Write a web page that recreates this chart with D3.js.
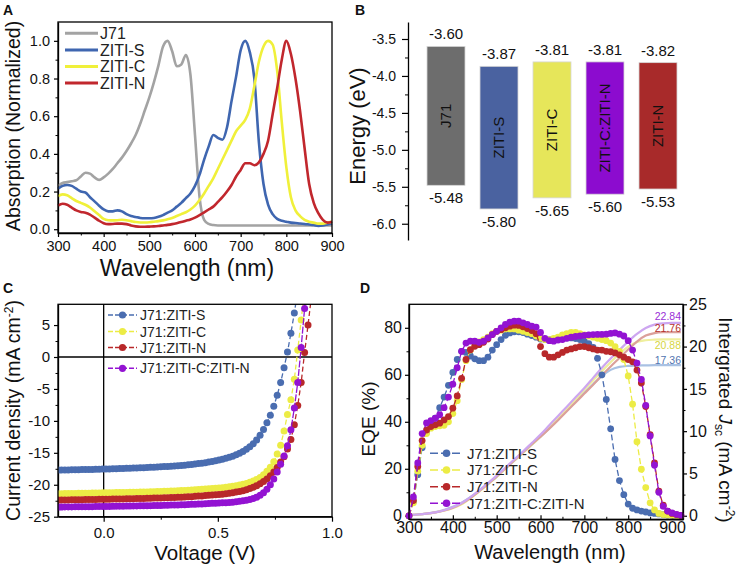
<!DOCTYPE html>
<html><head><meta charset="utf-8">
<script src="https://cdn.jsdelivr.net/npm/d3@7"></script>
<style>
body{margin:0;background:#fff;}
svg{display:block;}
</style></head><body>
<svg id="c" width="736" height="566"></svg>
<script>
// ---------------- DATA ----------------
// Panel A: normalized absorption
const wlA = [300,310,320,330,340,350,360,370,380,390,400,410,420,430,440,450,460,470,480,490,500,510,520,530,540,550,560,570,580,590,600,610,620,630,640,650,660,670,680,690,700,710,720,730,740,750,760,770,780,790,800,810,820,830,840,850,860,870,880,890,900];
const absJ71 = [0.23,0.245,0.25,0.255,0.26,0.28,0.30,0.295,0.275,0.262,
  0.275,0.295,0.32,0.35,0.38,0.415,0.455,0.50,0.56,0.63,
  0.70,0.78,0.87,0.97,1.0,0.945,0.865,0.875,0.925,0.82,
  0.50,0.17,0.05,0.028,0.022,0.02,0.02,0.02,0.02,0.02,
  0.02,0.02,0.02,0.02,0.02,0.02,0.02,0.02,0.02,0.02,
  0.02,0.02,0.02,0.02,0.02,0.02,0.02,0.02,0.02,0.02,0.02];
const absS = [0.215,0.23,0.235,0.23,0.215,0.20,0.195,0.17,0.148,0.125,
  0.105,0.095,0.095,0.10,0.095,0.08,0.07,0.065,0.06,0.058,
  0.058,0.06,0.066,0.075,0.088,0.10,0.12,0.14,0.165,0.19,
  0.23,0.29,0.37,0.44,0.50,0.485,0.475,0.54,0.68,0.81,
  0.95,1.0,0.94,0.80,0.46,0.24,0.13,0.08,0.055,0.045,
  0.04,0.035,0.033,0.03,0.028,0.025,0.022,0.018,0.02,0.025,0.03];
const absC = [0.175,0.185,0.18,0.165,0.15,0.14,0.13,0.115,0.095,0.075,
  0.055,0.048,0.047,0.048,0.05,0.048,0.043,0.038,0.036,0.036,
  0.037,0.04,0.043,0.047,0.053,0.06,0.07,0.08,0.09,0.105,
  0.125,0.155,0.19,0.23,0.27,0.32,0.37,0.42,0.47,0.52,
  0.55,0.58,0.64,0.76,0.89,0.97,1.0,0.98,0.84,0.57,
  0.33,0.17,0.10,0.07,0.05,0.04,0.035,0.03,0.03,0.035,0.04];
const absN = [0.125,0.135,0.13,0.115,0.10,0.092,0.088,0.078,0.062,0.045,
  0.032,0.027,0.028,0.03,0.03,0.027,0.02,0.015,0.013,0.013,
  0.014,0.015,0.017,0.02,0.023,0.027,0.032,0.038,0.045,0.052,
  0.062,0.075,0.09,0.105,0.12,0.145,0.17,0.20,0.235,0.28,
  0.315,0.35,0.35,0.34,0.355,0.40,0.47,0.61,0.75,0.90,
  1.0,0.93,0.80,0.63,0.43,0.24,0.14,0.085,0.05,0.035,0.04];
const namesA = ["J71","ZITI-S","ZITI-C","ZITI-N"];
const ticksAx = [300,400,500,600,700,800,900];
const ticksAy = [0,0.2,0.4,0.6,0.8,1.0];

// Panel B: energy levels
const catsB = ["J71","ZITI-S","ZITI-C","ZITI-C:ZITI-N","ZITI-N"];
const lumoB = [-3.60,-3.87,-3.81,-3.81,-3.82];
const homoB = [-5.48,-5.80,-5.65,-5.60,-5.53];
const ticksB = [-3.5,-4.0,-4.5,-5.0,-5.5,-6.0];

// Panel C: J-V
const namesCD = ["J71:ZITI-S","J71:ZITI-C","J71:ZITI-N","J71:ZITI-C:ZITI-N"];
const voltC = [-0.2,-0.185,-0.17,-0.155,-0.14,-0.125,-0.11,-0.095,-0.08,-0.065,-0.05,-0.035,-0.02,-0.005,0.01,0.025,0.04,0.055,0.07,0.085,
  0.1,0.115,0.13,0.145,0.16,0.175,0.19,0.205,0.22,0.235,0.25,0.265,0.28,0.295,0.31,0.325,0.34,0.355,0.37,0.385,
  0.4,0.415,0.43,0.445,0.46,0.475,0.49,0.505,0.52,0.535,0.55,0.565,0.58,0.595,0.61,0.625,0.64,0.655,0.67,0.685,
  0.7,0.715,0.73,0.745,0.76,0.775,0.79,0.805,0.82,0.835,0.85,0.865,0.88,0.895,0.91];
const jS = [-17.70,-17.69,-17.68,-17.67,-17.66,-17.65,-17.64,-17.63,-17.62,-17.61,
  -17.60,-17.58,-17.57,-17.55,-17.53,-17.52,-17.50,-17.48,-17.46,-17.44,
  -17.42,-17.40,-17.38,-17.36,-17.34,-17.32,-17.30,-17.27,-17.25,-17.22,
  -17.19,-17.16,-17.13,-17.10,-17.06,-17.02,-16.98,-16.93,-16.88,-16.82,
  -16.76,-16.69,-16.62,-16.54,-16.45,-16.36,-16.25,-16.13,-16.00,-15.86,
  -15.70,-15.52,-15.31,-15.07,-14.79,-14.45,-14.05,-13.57,-12.98,-12.25,
  -11.35,-10.30,-9.10,-7.70,-6.00,-4.00,-1.70,0.80,3.70,6.90,10.40];
const jC = [-21.40,-21.39,-21.38,-21.37,-21.36,-21.35,-21.34,-21.33,-21.32,-21.31,
  -21.30,-21.29,-21.28,-21.27,-21.26,-21.25,-21.24,-21.23,-21.22,-21.21,
  -21.20,-21.19,-21.17,-21.16,-21.15,-21.13,-21.12,-21.10,-21.08,-21.06,
  -21.04,-21.02,-21.00,-20.98,-20.96,-20.93,-20.91,-20.88,-20.85,-20.82,
  -20.79,-20.76,-20.72,-20.68,-20.64,-20.60,-20.55,-20.50,-20.45,-20.39,
  -20.32,-20.24,-20.15,-20.05,-19.93,-19.79,-19.62,-19.42,-19.17,-18.85,
  -18.42,-17.90,-17.25,-16.40,-15.20,-13.80,-11.60,-9.00,-6.70,-3.50,1.10,5.80,10.50];
const jN = [-22.40,-22.39,-22.38,-22.37,-22.36,-22.35,-22.34,-22.33,-22.32,-22.31,
  -22.30,-22.29,-22.28,-22.27,-22.26,-22.25,-22.24,-22.23,-22.22,-22.21,
  -22.20,-22.19,-22.18,-22.16,-22.15,-22.14,-22.12,-22.11,-22.09,-22.07,
  -22.06,-22.04,-22.02,-22.00,-21.98,-21.96,-21.94,-21.92,-21.89,-21.87,
  -21.80,-21.77,-21.74,-21.70,-21.66,-21.62,-21.57,-21.52,-21.47,-21.41,
  -21.33,-21.25,-21.15,-21.05,-20.95,-20.80,-20.60,-20.40,-20.15,-19.85,
  -19.50,-19.10,-18.60,-18.00,-17.30,-16.45,-15.60,-14.40,-12.90,-10.60,-7.60,-4.00,0.70,5.00,9.50];
const jCN = [-23.50,-23.49,-23.48,-23.48,-23.47,-23.46,-23.46,-23.45,-23.44,-23.43,
  -23.43,-23.42,-23.41,-23.40,-23.40,-23.39,-23.38,-23.37,-23.36,-23.35,
  -23.34,-23.33,-23.32,-23.31,-23.30,-23.29,-23.28,-23.27,-23.25,-23.24,
  -23.23,-23.21,-23.20,-23.18,-23.17,-23.15,-23.13,-23.11,-23.09,-23.07,
  -23.05,-23.03,-23.00,-22.97,-22.94,-22.91,-22.88,-22.84,-22.81,-22.80,
  -22.78,-22.73,-22.67,-22.60,-22.52,-22.42,-22.30,-22.15,-21.95,-21.65,
  -21.25,-20.70,-20.00,-19.10,-18.00,-16.80,-15.50,-13.90,-11.40,-8.00,-4.00,1.50,7.60,14.00];
const ticksCx = [0.0,0.5,1.0];
const ticksCy = [5,0,-5,-10,-15,-20,-25];

// Panel D: EQE and integrated Jsc
const wlD = [300,310,320,330,340,350,360,370,380,390,400,410,420,430,440,450,460,470,480,490,500,510,520,530,540,550,560,570,580,590,600,610,620,630,640,650,660,670,680,690,700,710,720,730,740,750,760,770,780,790,800,810,820,830,840,850,860,870,880,890,900,910,920];
const eqeS = [0,6,17.5,29,35.5,38,41.5,46,50.5,55.5,
  61,66.5,70,69.5,68,66.8,66,66,67.5,70.5,
  72.8,75,76.8,77.8,78.3,78.3,78,77.3,76.7,76,
  75.2,75,75,75.2,75.5,75.7,75.7,75.7,75.4,75,
  74.3,73.3,71.7,67,60,49.5,37,24,15,9,
  5,3.2,2.5,2,1.6,1.2,1,0.8,0.5,0.3,0.2,0.1,0];
const eqeC = [0,5.5,19,30,35,37.3,38,38.3,38.5,40,
  43.5,49,58,66,70.5,72.5,74,75,76,77.5,
  78.5,79,79.5,79.5,79.5,79,78.5,78,77.5,76.5,
  75.5,75,75,75.5,76,77,77.5,78,78,77.5,
  77,76.5,76,75.5,75,74.5,73.5,72,70,66.5,
  59.5,47.5,31.5,19.8,12,5.5,2.5,1,0.5,0.3,0.2,0.1,0];
const eqeN = [0,6.5,21,32,36.5,38,38.7,39.4,40.8,42.2,
  45.8,51,58.5,66.5,70.7,72.1,72.8,73.8,75.2,77.1,
  78.5,79.2,80,80.7,81.1,81,80.4,79.7,78.8,77.5,
  72,69,67.5,67.5,68.5,69.5,70.5,71,71.5,72,
  72,71.5,71,70.5,70.5,70,69.8,69.3,68.5,67.5,
  66.5,65.5,62,56.5,46.5,34.5,22.5,10.5,4.5,2,1,0.5,0.2];
const eqeCN = [0,8,22.5,35,39.5,40.5,41.5,43,46,50.5,
  56,63,70,73.5,74.3,74.3,73.8,74.3,75.7,77.1,
  78.5,80,81.4,82.4,82.8,82.8,82.1,81.4,80.7,80.3,
  78,75.5,74.5,74.3,74.8,75,75.5,76,76.3,76.5,
  76.8,77,77.1,77.2,77.2,77.3,77.6,77.8,77.3,76.5,
  74.5,70.5,65,58,47,34,21.5,10,4,2,1.2,0.6,0.2];
const wlInt = [300,320,340,360,380,400,420,440,460,480,500,520,540,560,580,600,620,640,660,680,700,720,740,760,780,800,820,840,860,880,900,920];
const intS = [0.1,0.15,0.25,0.42,0.7,1.05,1.55,2.2,2.95,3.75,4.6,5.55,6.5,7.45,8.4,9.35,10.35,11.4,12.45,13.5,14.55,15.55,16.5,17.25,17.6,17.72,17.76,17.78,17.8,17.8,17.8,17.8];
const intC = [0.1,0.15,0.25,0.4,0.6,0.9,1.35,2.05,2.85,3.7,4.6,5.55,6.5,7.45,8.4,9.35,10.4,11.5,12.6,13.75,14.9,16.0,17.1,18.15,19.15,20.0,20.55,20.75,20.82,20.85,20.85,20.85];
const intN = [0.1,0.15,0.25,0.4,0.62,0.95,1.45,2.1,2.9,3.75,4.65,5.6,6.55,7.5,8.45,9.35,10.3,11.3,12.35,13.4,14.45,15.5,16.6,17.65,18.65,19.65,20.6,21.3,21.6,21.7,21.72,21.72];
const intCN = [0.1,0.15,0.25,0.4,0.65,1.0,1.5,2.2,3.0,3.85,4.75,5.7,6.65,7.6,8.6,9.6,10.7,11.8,12.9,14.0,15.1,16.3,17.5,18.6,19.6,20.6,21.5,22.2,22.6,22.75,22.8,22.8];
const jscLabels = ["17.36","20.88","21.76","22.84"];
const ticksDx = [300,400,500,600,700,800,900];
const ticksDy = [0,20,40,60,80];
const ticksDr = [0,5,10,15,20,25];

// ---------------- DRAWING ----------------
const FONT = '"Liberation Sans", Arial, Helvetica, sans-serif';
const svg = d3.select("#c").attr("font-family", FONT);

function styleAxis(g, fs){
  g.attr("font-family", FONT).attr("font-size", fs);
  g.selectAll(".domain").attr("stroke","#000").attr("stroke-width",1.3);
  g.selectAll(".tick line").attr("stroke","#000").attr("stroke-width",1.2);
  g.selectAll(".tick text").attr("fill","#111");
}
function minorStyle(g){
  g.select(".domain").remove();
  g.selectAll(".tick line").attr("stroke","#000").attr("stroke-width",1);
  g.selectAll(".tick text").remove();
}
function frame(g,x0,y0,x1,y1){
  g.append("rect").attr("x",x0).attr("y",y0).attr("width",x1-x0).attr("height",y1-y0)
   .attr("fill","none").attr("stroke","#000").attr("stroke-width",1.3);
}
function label(g,x,y,s,fs,opt){
  opt = opt||{};
  return g.append("text").attr("x",x).attr("y",y).attr("font-size",fs)
    .attr("text-anchor",opt.anchor||"start").attr("font-weight",opt.weight||"normal")
    .attr("fill",opt.fill||"#111").text(s);
}
function mids(arr){ const r=[]; for(let i=0;i<arr.length-1;i++) r.push((arr[i]+arr[i+1])/2); return r; }

// Panel letters
label(svg,3,15,"A",14,{weight:"bold"});
label(svg,355,15,"B",14,{weight:"bold"});
label(svg,3,293,"C",14,{weight:"bold"});
label(svg,360,293,"D",14,{weight:"bold"});

// ===== Panel A =====
{
  const x = d3.scaleLinear().domain([300,900]).range([58,332]);
  const y = d3.scaleLinear().domain([-0.02,1.1]).range([233,22]);
  const g = svg.append("g");
  const colors = ["#a3a3a3","#3f66b0","#f0f03a","#c1272d"];
  const series = [absJ71,absS,absC,absN];
  g.append("g").attr("transform","translate(0,233)")
    .call(d3.axisBottom(x).tickValues(ticksAx).tickFormat(d=>String(d)).tickSizeInner(4).tickSizeOuter(0).tickPadding(4))
    .call(a=>styleAxis(a,14.5));
  g.append("g").attr("transform","translate(0,233)")
    .call(d3.axisBottom(x).tickValues(mids(ticksAx)).tickFormat(()=>"").tickSizeInner(2.5).tickSizeOuter(0)).call(minorStyle);
  g.append("g").attr("transform","translate(58,0)")
    .call(d3.axisLeft(y).tickValues(ticksAy).tickFormat(d=>d.toFixed(1)).tickSizeInner(4).tickSizeOuter(0).tickPadding(4))
    .call(a=>styleAxis(a,14.5));
  g.append("g").attr("transform","translate(58,0)")
    .call(d3.axisLeft(y).tickValues(mids(ticksAy)).tickFormat(()=>"").tickSizeInner(2.5).tickSizeOuter(0)).call(minorStyle);
  const line = d3.line().x(d=>x(d[0])).y(d=>y(d[1])).curve(d3.curveMonotoneX);
  series.forEach((s,k)=>{
    g.append("path").datum(wlA.map((w,i)=>[w,s[i]])).attr("d",line)
      .attr("fill","none").attr("stroke",colors[k]).attr("stroke-width",2.6).attr("stroke-linejoin","round");
  });
  frame(g,58,22,332,233);
  namesA.forEach((n,k)=>{
    const yy = 33.3 + k*16.6;
    g.append("line").attr("x1",65).attr("x2",98).attr("y1",yy).attr("y2",yy).attr("stroke",colors[k]).attr("stroke-width",3);
    label(g,100,yy+5.7,n,16,{fill:"#222"});
  });
  label(g,187,276,"Wavelength (nm)",23,{anchor:"middle"});
  g.append("text").attr("transform","translate(20,126) rotate(-90)").attr("text-anchor","middle")
    .attr("font-size",19.5).attr("fill","#111").text("Absorption (Normalized)");
}

// ===== Panel B =====
{
  const y = d3.scaleLinear().domain([-6.22,-3.27]).range([240,22]);
  const x = d3.scaleBand().domain(catsB).range([419.5,684.5]).paddingInner(0.283).paddingOuter(0.1415);
  const colors = ["#6d6d6d","#4a62a0","#e6e65a","#8c0ccf","#a82a2a"];
  const g = svg.append("g");
  g.append("g").attr("transform","translate(408,0)")
    .call(d3.axisLeft(y).tickValues(ticksB).tickFormat(d=>d.toFixed(1)).tickSizeInner(6).tickSizeOuter(0).tickPadding(6))
    .call(a=>styleAxis(a,14));
  g.append("g").attr("transform","translate(408,0)")
    .call(d3.axisLeft(y).tickValues(mids(ticksB)).tickFormat(()=>"").tickSizeInner(3).tickSizeOuter(0)).call(minorStyle);
  catsB.forEach((c,i)=>{
    const y1 = y(lumoB[i]), y2 = y(homoB[i]), bx = x(c), bw = x.bandwidth(), cx = bx+bw/2;
    g.append("rect").attr("x",bx).attr("y",y1).attr("width",bw).attr("height",y2-y1)
      .attr("fill",colors[i]).attr("stroke","#d6d6d6").attr("stroke-width",0.8);
    label(g,cx,y1-7,lumoB[i].toFixed(2),15,{anchor:"middle"});
    label(g,cx,y2+18,homoB[i].toFixed(2),15,{anchor:"middle"});
    g.append("text").attr("transform",`translate(${cx+5},${(y1+y2)/2}) rotate(-90)`)
      .attr("text-anchor","middle").attr("font-size",15).attr("fill","#111").text(c);
  });
  g.append("text").attr("transform","translate(365,126) rotate(-90)").attr("text-anchor","middle")
    .attr("font-size",22).attr("fill","#111").text("Energy (eV)");
}

// ===== Panel C =====
{
  const x = d3.scaleLinear().domain([-0.2,1.0]).range([58,332]);
  const y = d3.scaleLinear().domain([-25,8.25]).range([516.7,304.3]);
  const colors = ["#4a6db0","#ecec45","#b8282a","#9313d2"];
  const series = [jS,jC,jN,jCN];
  const g = svg.append("g");
  svg.append("clipPath").attr("id","clipC").append("rect").attr("x",58).attr("y",304.3).attr("width",274).attr("height",212.4);
  g.append("g").attr("transform","translate(0,516.7)")
    .call(d3.axisBottom(x).tickValues(ticksCx).tickFormat(d=>d.toFixed(1)).tickSizeInner(5).tickSizeOuter(0).tickPadding(5.5))
    .call(a=>styleAxis(a,15));
  g.append("g").attr("transform","translate(0,516.7)")
    .call(d3.axisBottom(x).tickValues(mids(ticksCx)).tickFormat(()=>"").tickSizeInner(3).tickSizeOuter(0)).call(minorStyle);
  g.append("g").attr("transform","translate(58,0)")
    .call(d3.axisLeft(y).tickValues(ticksCy).tickFormat(d=>String(d)).tickSizeInner(4).tickSizeOuter(0).tickPadding(4))
    .call(a=>styleAxis(a,15));
  g.append("g").attr("transform","translate(58,0)")
    .call(d3.axisLeft(y).tickValues(mids(ticksCy)).tickFormat(()=>"").tickSizeInner(2.5).tickSizeOuter(0)).call(minorStyle);
  // zero lines
  g.append("line").attr("x1",x(0)).attr("x2",x(0)).attr("y1",304.3).attr("y2",516.7).attr("stroke","#000").attr("stroke-width",1.3);
  g.append("line").attr("x1",58).attr("x2",332).attr("y1",y(0)).attr("y2",y(0)).attr("stroke","#000").attr("stroke-width",1.3);
  const pg = g.append("g").attr("clip-path","url(#clipC)");
  const line = d3.line().x(d=>x(d[0])).y(d=>y(d[1]));
  series.forEach((s,k)=>{
    const pts = s.map((v,i)=>[voltC[i],v]);
    pg.append("path").datum(pts).attr("d",line).attr("fill","none").attr("stroke",colors[k])
      .attr("stroke-width",1.3).attr("stroke-dasharray",k===3?"7,1.5":"5,3");
    pg.selectAll(null).data(pts).enter().append("circle")
      .attr("cx",d=>x(d[0])).attr("cy",d=>y(d[1])).attr("r",3.5).attr("fill",colors[k]);
  });
  frame(g,58,304.3,332,516.7);
  const rows = [315,331.5,347.5,368.3];
  namesCD.forEach((n,k)=>{
    g.append("line").attr("x1",108).attr("x2",137).attr("y1",rows[k]).attr("y2",rows[k])
      .attr("stroke",colors[k]).attr("stroke-width",1.5).attr("stroke-dasharray","5,2");
    g.append("circle").attr("cx",122.5).attr("cy",rows[k]).attr("r",3.6).attr("fill",colors[k]);
    label(g,140,rows[k]+5,n,14,{fill:"#222"});
  });
  label(g,205,560,"Voltage (V)",20.5,{anchor:"middle"});
  const t = g.append("text").attr("transform","translate(20,410.5) rotate(-90)").attr("text-anchor","middle")
    .attr("font-size",19.5).attr("fill","#111");
  t.append("tspan").text("Current density (mA cm");
  t.append("tspan").attr("font-size",12).attr("dy",-7).text("-2");
  t.append("tspan").attr("dy",7).text(")");
}

// ===== Panel D =====
{
  const x = d3.scaleLinear().domain([300,925]).range([409,683]);
  const y = d3.scaleLinear().domain([-1.5,90]).range([519.3,304.3]);
  const yr = d3.scaleLinear().domain([-0.42,25]).range([519.3,304.3]);
  const colors = ["#4a6db0","#ecec45","#b8282a","#9313d2"];
  const light = ["#a9c1e3","#efef9d","#dba09a","#cda6f0"];
  const labColors = ["#5275b0","#d6d640","#b5332e","#9a2fd6"];
  const eqe = [eqeS,eqeC,eqeN,eqeCN];
  const ints = [intS,intC,intN,intCN];
  const g = svg.append("g");
  g.append("g").attr("transform","translate(0,519.3)")
    .call(d3.axisBottom(x).tickValues(ticksDx).tickFormat(d=>String(d)).tickSizeInner(-4).tickSizeOuter(0).tickPadding(2))
    .call(a=>styleAxis(a,16));
  g.append("g").attr("transform","translate(0,519.3)")
    .call(d3.axisBottom(x).tickValues(mids(ticksDx)).tickFormat(()=>"").tickSizeInner(-2.5).tickSizeOuter(0)).call(minorStyle);
  g.append("g").attr("transform","translate(409,0)")
    .call(d3.axisLeft(y).tickValues(ticksDy).tickFormat(d=>String(d)).tickSizeInner(4).tickSizeOuter(0).tickPadding(3))
    .call(a=>styleAxis(a,16));
  g.append("g").attr("transform","translate(409,0)")
    .call(d3.axisLeft(y).tickValues(mids(ticksDy)).tickFormat(()=>"").tickSizeInner(2.5).tickSizeOuter(0)).call(minorStyle);
  g.append("g").attr("transform","translate(683,0)")
    .call(d3.axisRight(yr).tickValues(ticksDr).tickFormat(d=>String(d)).tickSizeInner(4).tickSizeOuter(0).tickPadding(2))
    .call(a=>styleAxis(a,16));
  g.append("g").attr("transform","translate(683,0)")
    .call(d3.axisRight(yr).tickValues(mids(ticksDr)).tickFormat(()=>"").tickSizeInner(2.5).tickSizeOuter(0)).call(minorStyle);
  const lineI = d3.line().x(d=>x(d[0])).y(d=>yr(d[1])).curve(d3.curveMonotoneX);
  ints.forEach((s,k)=>{
    g.append("path").datum(wlInt.map((w,i)=>[w,s[i]])).attr("d",lineI)
      .attr("fill","none").attr("stroke",light[k]).attr("stroke-width",2.2);
  });
  const jy = [363.5,348.5,332,320];
  jscLabels.forEach((s,k)=>{
    label(g,681,jy[k],s,10.5,{anchor:"end",fill:labColors[k]});
  });
  const line = d3.line().x(d=>x(d[0])).y(d=>y(d[1]));
  eqe.forEach((s,k)=>{
    const pts = s.map((v,i)=>[wlD[i],v]);
    g.append("path").datum(pts).attr("d",line).attr("fill","none").attr("stroke",colors[k])
      .attr("stroke-width",1.3).attr("stroke-dasharray","6,3");
    g.selectAll(null).data(pts).enter().append("circle")
      .attr("cx",d=>x(d[0])).attr("cy",d=>y(d[1])).attr("r",3.4).attr("fill",colors[k]);
  });
  frame(g,409,304.3,683,519.3);
  const rows = [453.3,470,486.7,503.3];
  namesCD.forEach((n,k)=>{
    g.append("line").attr("x1",430).attr("x2",463).attr("y1",rows[k]).attr("y2",rows[k])
      .attr("stroke",colors[k]).attr("stroke-width",1.5).attr("stroke-dasharray","8,3");
    g.append("circle").attr("cx",446.5).attr("cy",rows[k]).attr("r",3.8).attr("fill",colors[k]);
    label(g,467,rows[k]+5.4,n,15,{fill:"#222"});
  });
  label(g,550,559,"Wavelength (nm)",20,{anchor:"middle"});
  g.append("text").attr("transform","translate(375,419) rotate(-90)").attr("text-anchor","middle")
    .attr("font-size",19).attr("fill","#111").text("EQE (%)");
  const t = g.append("text").attr("transform","translate(719,420) rotate(90)").attr("text-anchor","middle")
    .attr("font-size",19).attr("fill","#111");
  t.append("tspan").text("Intergrated ");
  t.append("tspan").attr("font-style","italic").text("J");
  t.append("tspan").attr("font-size",12).attr("dy",4).text("sc");
  t.append("tspan").attr("dy",-4).text(" (mA cm");
  t.append("tspan").attr("font-size",12).attr("dy",-7).text("-2");
  t.append("tspan").attr("dy",7).text(")");
}
</script></body></html>
